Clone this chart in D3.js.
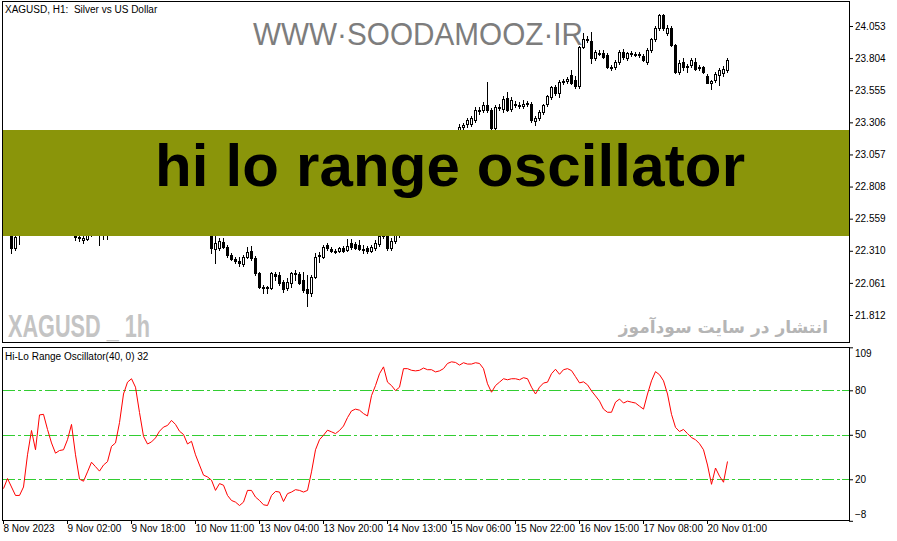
<!DOCTYPE html>
<html><head><meta charset="utf-8">
<script src="https://cdn.jsdelivr.net/npm/d3@7"></script>
<style>
body{margin:0;background:#fff}
svg{display:block}
</style>
</head><body>
<svg id="c" width="897" height="541"></svg>
<script>
// ---------- data ----------
const opens=[22.509,22.486,22.454,22.331,22.431,22.454,22.517,22.641,22.719,22.625,
22.812,22.796,22.703,22.625,22.563,22.594,22.610,22.687,22.563,22.416,
22.393,22.400,22.439,22.486,22.470,22.454,22.478,22.501,22.587,22.610,
22.757,22.920,22.990,23.013,22.951,22.820,22.726,22.703,22.719,22.742,
22.781,22.804,22.820,22.858,22.827,22.781,22.796,22.703,22.719,22.610,
22.532,22.470,22.454,22.323,22.331,22.377,22.339,22.276,22.245,22.230,
22.207,22.261,22.308,22.253,22.137,22.028,22.020,22.020,22.129,22.121,
22.067,22.020,22.059,22.129,22.129,22.082,22.013,21.982,22.106,22.268,
22.261,22.354,22.323,22.308,22.308,22.331,22.315,22.370,22.362,22.354,
22.323,22.331,22.308,22.331,22.362,22.423,22.423,22.331,22.385,22.431,
22.486,22.563,22.602,22.672,22.703,22.781,22.827,22.858,22.928,22.951,
23.029,23.068,23.130,23.177,23.223,23.269,23.293,23.293,23.324,23.394,
23.401,23.440,23.401,23.262,23.425,23.409,23.494,23.409,23.448,23.440,
23.432,23.448,23.448,23.316,23.339,23.386,23.448,23.502,23.580,23.533,
23.619,23.627,23.673,23.634,23.588,23.890,23.944,23.937,23.805,23.844,
23.844,23.828,23.735,23.735,23.774,23.851,23.805,23.844,23.836,23.828,
23.820,23.774,23.867,23.952,24.037,24.138,23.999,24.037,23.906,23.696,
23.774,23.735,23.751,23.774,23.727,23.735,23.665,23.611,23.634,23.673,
23.688,23.712];
const highs=[22.548,22.532,22.470,22.423,22.486,22.548,22.664,22.742,22.750,22.827,
22.858,22.820,22.734,22.656,22.625,22.641,22.703,22.734,22.587,22.447,
22.431,22.470,22.517,22.532,22.517,22.501,22.532,22.610,22.641,22.781,
22.936,23.013,23.052,23.029,22.974,22.843,22.765,22.750,22.765,22.812,
22.827,22.843,22.889,22.874,22.843,22.812,22.812,22.742,22.734,22.641,
22.563,22.501,22.486,22.423,22.408,22.408,22.354,22.292,22.261,22.261,
22.276,22.339,22.346,22.268,22.144,22.044,22.036,22.144,22.144,22.144,
22.082,22.098,22.144,22.160,22.144,22.144,22.121,22.121,22.292,22.300,
22.354,22.370,22.339,22.323,22.339,22.346,22.400,22.400,22.377,22.393,
22.354,22.346,22.354,22.393,22.454,22.470,22.470,22.408,22.454,22.501,
22.587,22.625,22.703,22.734,22.796,22.858,22.889,22.951,22.974,23.052,
23.091,23.153,23.200,23.231,23.293,23.300,23.339,23.355,23.425,23.425,
23.463,23.619,23.417,23.440,23.448,23.510,23.541,23.502,23.471,23.463,
23.479,23.471,23.463,23.355,23.401,23.448,23.518,23.588,23.596,23.634,
23.642,23.658,23.712,23.665,23.898,23.999,23.975,24.006,23.867,23.867,
23.867,23.844,23.751,23.789,23.867,23.874,23.851,23.859,23.851,23.851,
23.836,23.882,23.960,24.053,24.146,24.146,24.061,24.053,23.913,23.789,
23.805,23.758,23.805,23.805,23.751,23.743,23.681,23.634,23.696,23.727,
23.743,23.805];
const lows=[22.470,22.439,22.292,22.315,22.362,22.439,22.501,22.610,22.610,22.610,
22.765,22.687,22.610,22.532,22.548,22.563,22.594,22.548,22.393,22.385,
22.370,22.393,22.423,22.447,22.354,22.400,22.400,22.486,22.563,22.594,
22.734,22.889,22.951,22.920,22.796,22.703,22.672,22.680,22.703,22.726,
22.765,22.781,22.796,22.796,22.750,22.750,22.687,22.680,22.594,22.517,
22.454,22.439,22.292,22.214,22.315,22.331,22.261,22.238,22.214,22.191,
22.191,22.253,22.238,22.121,22.020,21.982,21.982,22.013,22.082,22.044,
21.989,22.005,22.028,22.082,22.051,21.989,21.881,21.958,22.098,22.222,
22.253,22.315,22.300,22.292,22.300,22.300,22.308,22.323,22.323,22.315,
22.292,22.292,22.300,22.315,22.346,22.408,22.315,22.315,22.370,22.416,
22.470,22.532,22.579,22.641,22.680,22.750,22.796,22.835,22.889,22.928,
22.998,23.044,23.107,23.153,23.207,23.246,23.269,23.277,23.308,23.370,
23.386,23.386,23.254,23.246,23.401,23.386,23.394,23.394,23.425,23.417,
23.417,23.432,23.308,23.285,23.324,23.370,23.432,23.487,23.518,23.502,
23.603,23.611,23.603,23.572,23.572,23.882,23.929,23.766,23.789,23.828,
23.805,23.727,23.712,23.720,23.758,23.797,23.789,23.820,23.820,23.813,
23.782,23.758,23.851,23.937,24.022,24.022,23.983,23.898,23.688,23.681,
23.712,23.696,23.735,23.712,23.712,23.688,23.611,23.565,23.619,23.596,
23.665,23.696];
const closes=[22.486,22.462,22.331,22.416,22.454,22.517,22.641,22.719,22.625,22.812,
22.796,22.703,22.625,22.563,22.594,22.610,22.687,22.563,22.416,22.408,
22.408,22.439,22.486,22.470,22.454,22.478,22.501,22.587,22.610,22.757,
22.920,22.990,23.013,22.951,22.820,22.726,22.703,22.719,22.742,22.781,
22.804,22.820,22.858,22.827,22.781,22.796,22.703,22.719,22.610,22.532,
22.470,22.454,22.331,22.370,22.385,22.339,22.276,22.245,22.230,22.214,
22.261,22.300,22.253,22.137,22.028,22.020,22.028,22.137,22.113,22.059,
22.013,22.067,22.137,22.137,22.059,22.005,21.982,22.106,22.261,22.276,
22.339,22.331,22.308,22.300,22.331,22.308,22.346,22.339,22.331,22.323,
22.315,22.308,22.339,22.370,22.423,22.439,22.331,22.385,22.431,22.486,
22.563,22.602,22.672,22.703,22.781,22.827,22.858,22.928,22.951,23.029,
23.068,23.130,23.177,23.215,23.269,23.285,23.324,23.339,23.401,23.401,
23.440,23.401,23.262,23.425,23.417,23.487,23.401,23.479,23.440,23.432,
23.448,23.456,23.324,23.339,23.386,23.440,23.510,23.580,23.533,23.619,
23.627,23.642,23.611,23.588,23.890,23.952,23.952,23.805,23.851,23.838,
23.813,23.735,23.730,23.774,23.851,23.813,23.844,23.836,23.828,23.836,
23.789,23.867,23.952,24.037,24.138,24.037,24.037,23.906,23.696,23.766,
23.735,23.743,23.789,23.719,23.735,23.696,23.613,23.627,23.681,23.712,
23.719,23.789];
const oscValues=[13.7,20.5,14.8,9.1,9.1,14.8,36.5,52.9,39.9,63.4,
63.8,53.6,44.5,37.6,39.4,39.9,46.7,57,36.5,20.1,
18.7,25,31.5,28.5,25.5,29.6,31.9,42.2,44.5,58.2,
77.5,85.5,87.8,82.1,65,49,43.8,45.2,47.9,52.4,
55.2,56.3,59.7,57,52.4,50.2,43.8,45.6,36.5,29.6,
22.8,21.6,19.4,12.5,17.1,16,9.1,5.7,4.6,2.3,
4.6,12.5,12.5,8,5.7,2.8,2.3,9.1,11.8,11.4,
5,10.3,11.4,13,12.5,11.4,12.5,25,39.9,46.7,
49.7,53.1,52,50.8,52.9,55.9,61.6,66.1,67.3,66.6,
64.3,62.7,76.4,83.2,91.2,95.8,85.5,83.2,79.8,82.1,
94.6,94.6,93.5,93.1,93.5,95,93.9,93.9,92.4,93.1,
94.6,98.1,99.2,98.8,97,98.6,97.7,97.7,98.6,98.1,
94.6,84.4,78.7,83.2,85.5,87.8,87.1,87.8,87.8,87.1,
88.5,87.8,82.1,77.5,82.1,84.9,85.5,91.2,94.2,90.8,
93.9,94.6,93.3,89.2,85,85.7,83.7,79.6,76.2,72.7,
67.3,65.2,65.2,72,74.1,71.4,72.7,72,71.4,69.3,
67.3,77.5,86.4,92.6,90.5,86.4,77.5,63.8,55,52.2,
53.6,50.8,48.1,46.7,44,39.9,29.6,16.6,27.6,22.1,
18,32];
const priceTicks=[24.053,23.804,23.555,23.306,23.057,22.808,22.559,22.310,22.061,21.812];
const oscTicks=[109,80,50,20,-8];
const oscLevels=[80,50,20];
const timeTickIdx=[0,16,32,48,64,80,96,112,128,144,160,176];
const timeTickLabels=["8 Nov 2023","9 Nov 02:00","9 Nov 18:00","10 Nov 11:00","13 Nov 04:00","13 Nov 20:00","14 Nov 13:00","15 Nov 06:00","15 Nov 22:00","16 Nov 15:00","17 Nov 08:00","20 Nov 01:00"];

// ---------- layout ----------
const FONT='"Liberation Sans", Arial, sans-serif';
const svg=d3.select("#c");
const L=2.5, R=849.5, T1=1.5, B1=342.5, T2=347.5, B2=520.5;

const xS=d3.scaleLinear().domain([0,181]).range([3,727]);
const yP=d3.scaleLinear().domain([21.812,24.053]).range([315,26]);
const yO=d3.scaleLinear().domain([-8,109]).range([520.8,347.3]);

const defs=svg.append("defs");
defs.append("clipPath").attr("id","cp1").append("rect").attr("x",3).attr("y",2).attr("width",846).attr("height",340);
defs.append("clipPath").attr("id","cp2").append("rect").attr("x",3).attr("y",348).attr("width",846).attr("height",172);

// watermarks
svg.append("text").attr("x",253).attr("y",45).attr("font-family",FONT).attr("font-size",31)
  .attr("fill","#7d7d7d").attr("textLength",330).attr("lengthAdjust","spacingAndGlyphs")
  .text("WWW·SOODAMOOZ·IR");
svg.append("text").attr("x",8).attr("y",337).attr("font-family",'"Liberation Sans Narrow","Liberation Sans",Arial,sans-serif')
  .attr("font-weight","bold").attr("font-size",32).attr("fill","#c4c4c4")
  .attr("textLength",142).attr("lengthAdjust","spacingAndGlyphs").style("white-space","pre")
  .text("XAGUSD _ 1h");
svg.append("text").attr("x",828).attr("y",333).attr("text-anchor","end")
  .attr("font-family",'"DejaVu Sans",sans-serif').attr("font-weight","bold").attr("font-size",17).attr("fill","#b5b5b5")
  .text("انتشار در سایت سودآموز");

// candles
const gC=svg.append("g").attr("clip-path","url(#cp1)");
d3.range(opens.length).forEach(i=>{
  const o=opens[i],h=highs[i],l=lows[i],c=closes[i];
  const x=xS(i)+0.5;
  gC.append("line").attr("x1",x).attr("x2",x)
    .attr("y1",Math.round(yP(h))).attr("y2",Math.round(yP(l))+1)
    .attr("stroke","#000").attr("stroke-width",1).attr("shape-rendering","crispEdges");
  const yt=Math.round(yP(Math.max(o,c)))+0.5, yb=Math.round(yP(Math.min(o,c)))+0.5;
  gC.append("rect").attr("x",x-1).attr("width",2).attr("y",yt).attr("height",Math.max(0,yb-yt))
    .attr("fill",c>=o?"#fff":"#000").attr("stroke","#000").attr("stroke-width",1);
});

// banner
svg.append("rect").attr("x",3).attr("y",130).attr("width",846).attr("height",106).attr("fill","#8a950a");
svg.append("text").attr("x",450).attr("y",186).attr("text-anchor","middle").attr("font-family",FONT)
  .attr("font-weight","bold").attr("font-size",60).attr("fill","#000")
  .attr("textLength",590).attr("lengthAdjust","spacing").text("hi lo range oscillator");

// oscillator panel
const gO=svg.append("g").attr("clip-path","url(#cp2)");
oscLevels.forEach(v=>{
  gO.append("line").attr("x1",3).attr("x2",849).attr("y1",Math.round(yO(v))+0.5).attr("y2",Math.round(yO(v))+0.5)
    .attr("stroke","#32cd32").attr("stroke-width",1).attr("stroke-dasharray","12,3,3,3");
  gO.append("line").attr("x1",842).attr("x2",849).attr("y1",Math.round(yO(v))+0.5).attr("y2",Math.round(yO(v))+0.5)
    .attr("stroke","#32cd32").attr("stroke-width",1);
});
gO.append("path").datum(oscValues)
  .attr("d",d3.line().x((d,i)=>xS(i)+0.5).y(d=>yO(d)))
  .attr("fill","none").attr("stroke","#ff0000").attr("stroke-width",1);

// frames
svg.append("rect").attr("x",L).attr("y",T1).attr("width",R-L).attr("height",B1-T1).attr("fill","none").attr("stroke","#000");
svg.append("rect").attr("x",L).attr("y",T2).attr("width",R-L).attr("height",B2-T2).attr("fill","none").attr("stroke","#000");

// axes
function styleAxis(g){
  g.select(".domain").remove();
  g.attr("font-family",FONT).attr("font-size",10);
  g.selectAll("text").attr("fill","#000");
  g.selectAll("line").attr("stroke","#000");
}
const gPA=svg.append("g").attr("transform","translate(849,0)")
  .call(d3.axisRight(yP).tickValues(priceTicks).tickFormat(d3.format(".3f")).tickSize(4).tickPadding(2).tickSizeOuter(0));
styleAxis(gPA);

const gOA=svg.append("g").attr("transform","translate(849,0)")
  .call(d3.axisRight(yO).tickValues(oscTicks).tickFormat(d3.format("d")).tickSize(4).tickPadding(2).tickSizeOuter(0));
styleAxis(gOA);
gOA.selectAll(".tick").filter(d=>d===109).select("text").attr("dy","0.9em");
gOA.selectAll(".tick").filter(d=>d===-8).select("text").attr("dy","-0.3em");

const gTA=svg.append("g").attr("transform","translate(0,520)")
  .call(d3.axisBottom(xS).tickValues(timeTickIdx).tickFormat((d,i)=>timeTickLabels[i]).tickSize(4).tickPadding(1).tickSizeOuter(0));
styleAxis(gTA);
gTA.selectAll("text").attr("text-anchor","start").attr("x",0);

// titles
svg.append("text").attr("x",5).attr("y",13).attr("font-family",FONT).attr("font-size",10).attr("fill","#000")
  .style("white-space","pre").text("XAGUSD, H1:  Silver vs US Dollar");
svg.append("text").attr("x",5).attr("y",360).attr("font-family",FONT).attr("font-size",10).attr("fill","#000")
  .text("Hi-Lo Range Oscillator(40, 0) 32");
</script>
</body></html>
